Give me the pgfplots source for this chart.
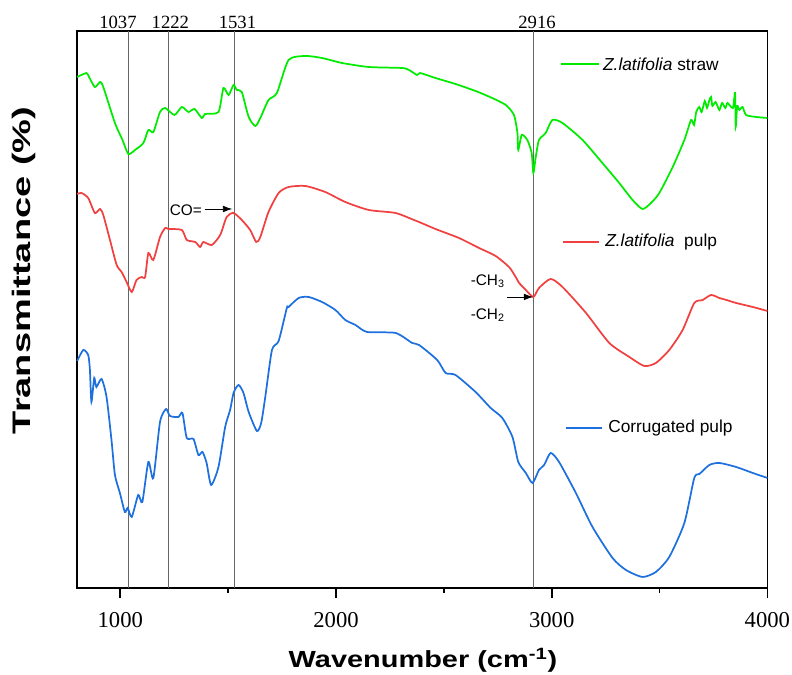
\documentclass[border=0pt]{standalone}
\usepackage{fontspec}
\setmainfont{Liberation Serif}
\setsansfont{Liberation Sans}
\usepackage{pgfplots}
\pgfplotsset{compat=1.18}
\usetikzlibrary{arrows.meta}

\definecolor{cgreen}{RGB}{0,235,0}
\definecolor{cred}{RGB}{240,64,64}
\definecolor{cblue}{RGB}{30,112,222}

\begin{document}
\begin{tikzpicture}
\begin{axis}[width=517.7pt, height=417.75pt, scale only axis,
  xmin=800, xmax=4000, ymin=12, ymax=569,
  axis line style={line width=1.3pt},
  xtick={1000,2000,3000,4000}, minor xtick={1500,2500,3500},
  ytick=\empty, xtick pos=left, tick align=outside,
  major tick length=7.5pt, minor tick length=4pt,
  every tick/.style={black, line width=1.3pt},
  xticklabel style={font=\fontsize{17}{20}\selectfont, yshift=-7pt},
  /pgf/number format/assume math mode=true,
  /pgf/number format/set thousands separator={},
  every axis plot/.append style={smooth, tension=0.4, line width=1.3pt},
  clip=false]

% marker lines
\foreach \w in {1037,1222,1531,2916}{
  \edef\tmp{\noexpand\draw[black!60, line width=0.75pt] (axis cs:\w,12) -- (axis cs:\w,569);}\tmp
}
\node[anchor=base, font=\fontsize{14}{16}\selectfont, inner sep=0pt] at (axis cs:989,571) {1037};
\node[anchor=base, font=\fontsize{14}{16}\selectfont, inner sep=0pt] at (axis cs:1232,571) {1222};
\node[anchor=base, font=\fontsize{14}{16}\selectfont, inner sep=0pt] at (axis cs:1543,571) {1531};
\node[anchor=base, font=\fontsize{14}{16}\selectfont, inner sep=0pt] at (axis cs:2932,571) {2916};

% Z.latifolia straw
\addplot[cgreen] coordinates {
(800,523) (843,527) (855,523) (882,513) (906,518) (921,513) (975,477) (1010,460)
(1037,446) (1068,450) (1107,457) (1130,470) (1153,468) (1184,488) (1208,492)
(1251,485) (1285,493) (1316,488) (1344,491) (1378,482) (1393,486) (1455,488)
(1478,512) (1502,505) (1525,515) (1540,510) (1563,508) (1595,483) (1626,474)
(1649,482) (1687,500) (1726,507) (1780,540) (1858,544) (1935,542) (2028,537)
(2152,533) (2306,532) (2338,530) (2376,525) (2390,527) (2461,522) (2554,516)
(2647,509) (2724,502) (2787,495) (2825,485) (2841,467) (2845,450) (2861,465)
(2887,460) (2907,447) (2915,427) (2926,443) (2941,460) (2972,467) (3003,480)
(3050,477) (3143,460) (3235,437) (3313,417) (3375,400) (3421,391) (3460,397)
(3499,407) (3561,433) (3615,460) (3646,480) (3660,475) (3670,488) (3684,493)
(3695,488) (3710,499) (3720,492) (3731,500) (3739,503) (3745,494) (3760,498)
(3777,490) (3790,497) (3805,492) (3815,497) (3840,492) (3850,507) (3853,473)
(3860,494) (3870,490) (3885,493) (3901,485) (3948,483) (4000,482)};

% Z.latifolia pulp
\addplot[cred] coordinates {
(800,406) (820,407) (851,402) (882,387) (906,391) (921,385) (952,360) (983,335)
(1006,328) (1029,318) (1053,308) (1075,320) (1099,323) (1115,323) (1130,347)
(1153,340) (1184,363) (1208,372) (1223,371) (1285,370) (1308,360) (1347,358)
(1370,353) (1385,358) (1424,355) (1463,365) (1493,383) (1525,387) (1563,380)
(1602,370) (1630,358) (1649,363) (1687,388) (1734,407) (1780,413) (1858,414)
(1950,408) (2043,398) (2152,390) (2276,387) (2361,380) (2385,378) (2461,371)
(2570,362) (2663,352) (2740,344) (2802,333) (2833,323) (2849,317) (2880,310)
(2915,303) (2941,312) (2995,321) (3050,313) (3159,287) (3267,257) (3360,243)
(3429,234) (3483,237) (3545,250) (3607,270) (3661,297) (3700,300) (3739,305)
(3777,302) (3810,300) (3855,297) (3932,293) (4000,289)};

% Corrugated pulp
\addplot[cblue] coordinates {
(800,239) (828,250) (851,245) (859,230) (866,198) (879,222) (889,213) (913,221)
(936,203) (959,160) (975,125) (998,107) (1021,88) (1034,92) (1053,83) (1083,105)
(1102,98) (1130,138) (1153,122) (1184,178) (1212,191) (1230,184) (1269,183)
(1288,187) (1308,162) (1339,161) (1362,145) (1381,148) (1400,137) (1421,115)
(1455,133) (1486,173) (1509,190) (1525,207) (1548,215) (1571,207) (1595,188)
(1633,169) (1653,177) (1672,203) (1703,250) (1734,259) (1772,292) (1780,293)
(1827,302) (1873,303) (1935,298) (1997,290) (2043,280) (2090,275) (2144,268)
(2276,267) (2353,257) (2385,255) (2469,240) (2508,227) (2554,225) (2647,208)
(2717,192) (2771,182) (2818,163) (2845,138) (2880,127) (2911,117) (2941,130)
(2965,135) (2995,147) (3034,138) (3112,107) (3189,73) (3282,42) (3344,30)
(3421,23) (3483,28) (3545,43) (3615,77) (3661,122) (3685,126) (3731,135)
(3777,137) (3855,133) (3932,127) (4000,122)};

% legend entries
\draw[cgreen, line width=1.3pt] (axis cs:3043,536) -- (axis cs:3219,536);
\node[anchor=west, inner sep=0pt, font=\sffamily\fontsize{13}{15}\selectfont] at (axis cs:3237,536) {\textit{Z.latifolia} straw};
\draw[cred, line width=1.3pt] (axis cs:3052,358) -- (axis cs:3219,358);
\node[anchor=west, inner sep=0pt, font=\sffamily\fontsize{13}{15}\selectfont] at (axis cs:3247,358) {\textit{Z.latifolia}\ \ pulp};
\draw[cblue, line width=1.3pt] (axis cs:3066,172) -- (axis cs:3232,172);
\node[anchor=west, inner sep=0pt, font=\sffamily\fontsize{13}{15}\selectfont] at (axis cs:3261,172) {Corrugated pulp};

% annotations
\node[anchor=east, inner sep=0pt, font=\sffamily\fontsize{11.5}{13}\selectfont] at (axis cs:1379,390) {CO=};
\draw[-{Latex[length=7pt,width=5pt]}, line width=0.6pt] (axis cs:1392,391) -- (axis cs:1519,391);
\node[anchor=east, inner sep=0pt, font=\sffamily\fontsize{11.5}{13}\selectfont] at (axis cs:2783,319) {-CH\textsubscript{3}};
\node[anchor=east, inner sep=0pt, font=\sffamily\fontsize{11.5}{13}\selectfont] at (axis cs:2783,285) {-CH\textsubscript{2}};
\draw[-{Latex[length=7pt,width=5pt]}, line width=0.6pt] (axis cs:2794,303) -- (axis cs:2914,303);

% axis labels
\node[rotate=90, anchor=center, inner sep=0pt] at ([xshift=-40pt]axis description cs:0,0.570)
  {\scalebox{1.5}[1]{\sffamily\bfseries\fontsize{19}{22}\selectfont Transmittance (\%)}};
\node[anchor=base, inner sep=0pt] at ([yshift=-60pt]axis description cs:0.501,0)
  {\scalebox{1.24}[1]{\sffamily\bfseries\fontsize{17.5}{20}\selectfont Wavenumber (cm\textsuperscript{-1})}};
\end{axis}
\pgfresetboundingbox
\path ([xshift=-57.9pt, yshift=-65.25pt]current axis.south west) rectangle ([xshift=18.45pt, yshift=23.25pt]current axis.north east);
\end{tikzpicture}
\end{document}
